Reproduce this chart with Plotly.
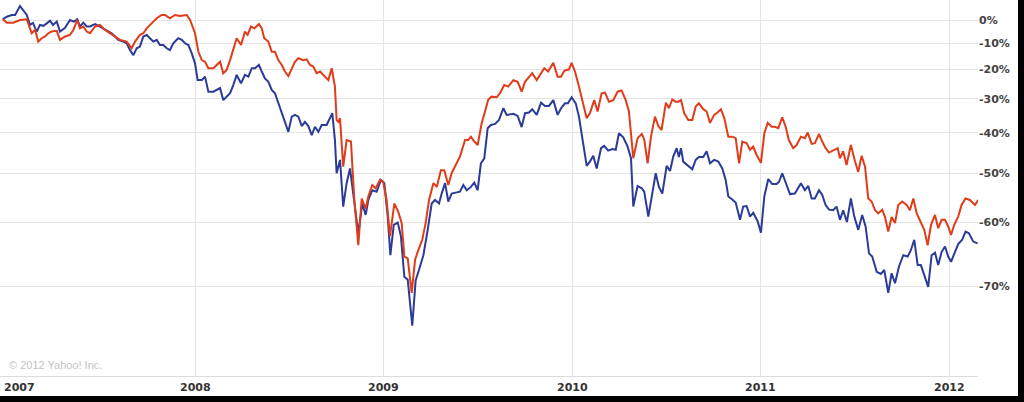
import plotly.graph_objects as go

# Time in decimal years, value = % change since start
blue_t = [2006.980, 2007.002, 2007.028, 2007.046, 2007.072, 2007.088, 2007.108, 2007.125, 2007.141, 2007.152,
          2007.161, 2007.178, 2007.196, 2007.214, 2007.231, 2007.247, 2007.267, 2007.284, 2007.311, 2007.337,
          2007.358, 2007.376, 2007.390, 2007.408, 2007.426, 2007.443, 2007.470, 2007.496, 2007.514, 2007.532,
          2007.558, 2007.576, 2007.593, 2007.620, 2007.638, 2007.655, 2007.673, 2007.691, 2007.708, 2007.726,
          2007.744, 2007.761, 2007.779, 2007.797, 2007.814, 2007.832, 2007.850, 2007.867, 2007.885, 2007.911,
          2007.930, 2007.947, 2007.965, 2007.983, 2008.000, 2008.014, 2008.036, 2008.053, 2008.071, 2008.097,
          2008.115, 2008.133, 2008.150, 2008.168, 2008.186, 2008.203, 2008.221, 2008.244, 2008.265, 2008.283,
          2008.301, 2008.318, 2008.339, 2008.354, 2008.371, 2008.389, 2008.407, 2008.424, 2008.442, 2008.468,
          2008.495, 2008.513, 2008.530, 2008.548, 2008.566, 2008.583, 2008.601, 2008.619, 2008.636, 2008.654,
          2008.672, 2008.698, 2008.716, 2008.728, 2008.742, 2008.751, 2008.769, 2008.786, 2008.804, 2008.822,
          2008.839, 2008.866, 2008.887, 2008.905, 2008.919, 2008.940, 2008.963, 2008.986, 2009.004, 2009.022,
          2009.036, 2009.054, 2009.075, 2009.092, 2009.110, 2009.128, 2009.152, 2009.170, 2009.188, 2009.211,
          2009.234, 2009.255, 2009.273, 2009.294, 2009.308, 2009.326, 2009.343, 2009.361, 2009.382, 2009.405,
          2009.423, 2009.441, 2009.463, 2009.481, 2009.499, 2009.516, 2009.534, 2009.552, 2009.569, 2009.591,
          2009.612, 2009.635, 2009.653, 2009.688, 2009.711, 2009.732, 2009.750, 2009.771, 2009.788, 2009.812,
          2009.835, 2009.856, 2009.877, 2009.900, 2009.923, 2009.941, 2009.962, 2009.978, 2009.997, 2010.019,
          2010.036, 2010.054, 2010.077, 2010.094, 2010.112, 2010.130, 2010.153, 2010.170, 2010.191, 2010.213,
          2010.231, 2010.248, 2010.271, 2010.294, 2010.312, 2010.324, 2010.347, 2010.369, 2010.382, 2010.404,
          2010.422, 2010.443, 2010.460, 2010.478, 2010.501, 2010.519, 2010.536, 2010.554, 2010.566, 2010.577,
          2010.589, 2010.616, 2010.637, 2010.655, 2010.672, 2010.695, 2010.713, 2010.731, 2010.753, 2010.775,
          2010.796, 2010.814, 2010.828, 2010.849, 2010.867, 2010.890, 2010.907, 2010.925, 2010.943, 2010.960,
          2010.984, 2011.001, 2011.019, 2011.040, 2011.061, 2011.084, 2011.097, 2011.114, 2011.132, 2011.155,
          2011.181, 2011.213, 2011.234, 2011.252, 2011.270, 2011.287, 2011.309, 2011.326, 2011.344, 2011.362,
          2011.384, 2011.402, 2011.420, 2011.437, 2011.457, 2011.478, 2011.496, 2011.517, 2011.538, 2011.556,
          2011.574, 2011.591, 2011.615, 2011.637, 2011.655, 2011.676, 2011.694, 2011.712, 2011.733, 2011.756,
          2011.779, 2011.796, 2011.814, 2011.832, 2011.849, 2011.871, 2011.888, 2011.906, 2011.924, 2011.941,
          2011.959, 2011.977, 2011.994, 2012.009, 2012.030, 2012.047, 2012.068, 2012.086, 2012.104, 2012.127,
          2012.150]
blue_pct = [0.3, 1.5, 2.3, 2.3, 6.5, 4.6, 2.3, -2.2, -1.3, -3.5,
            -5.1, -2.2, -2.6, -1.5, -0.3, -2.2, -0.7, -5.1, -3.5, 0.0,
            -0.7, 0.3, -2.9, -1.2, -2.9, -2.9, -1.8, -2.9, -3.7, -4.4,
            -5.8, -7.2, -8.6, -9.3, -10.0, -12.7, -14.7, -12.0, -11.3, -7.2,
            -6.5, -7.9, -9.3, -8.6, -10.7, -10.7, -12.0, -12.7, -10.0, -7.9,
            -8.6, -10.0, -10.7, -14.0, -17.8, -23.8, -23.8, -22.6, -27.7, -27.7,
            -27.1, -26.5, -30.4, -29.3, -28.2, -25.5, -22.0, -24.9, -22.0, -22.6,
            -19.6, -19.6, -18.4, -20.8, -23.2, -24.4, -27.1, -28.2, -31.4, -35.4,
            -39.7, -35.4, -34.9, -35.4, -38.1, -36.9, -38.1, -40.6, -38.3, -39.7,
            -37.8, -37.8, -35.9, -34.4, -41.9, -50.0, -46.9, -57.0, -52.2, -48.9,
            -54.4, -61.9, -56.4, -58.6, -55.7, -53.7, -54.0, -51.5, -52.2, -58.9,
            -65.5, -60.4, -60.0, -62.4, -68.7, -69.1, -74.9, -69.2, -67.7, -65.5,
            -61.3, -56.4, -55.7, -56.4, -54.4, -52.2, -56.0, -54.4, -54.2, -54.0,
            -52.6, -53.7, -53.0, -52.1, -53.7, -47.7, -46.5, -38.7, -37.8, -37.5,
            -36.4, -32.9, -34.9, -34.6, -35.2, -38.4, -34.4, -34.2, -33.2, -34.9,
            -31.2, -32.2, -32.2, -30.4, -34.9, -32.9, -31.4, -31.4, -29.5, -31.4,
            -35.4, -41.4, -48.3, -47.3, -45.9, -48.9, -44.0, -43.4, -44.6, -44.2,
            -44.4, -40.1, -41.2, -43.6, -46.5, -57.0, -52.8, -53.3, -54.0, -58.9,
            -55.0, -50.0, -53.0, -54.4, -48.3, -49.5, -46.1, -44.0, -46.2, -44.0,
            -47.3, -48.3, -49.1, -46.9, -46.2, -46.2, -44.8, -47.7, -46.9, -47.3,
            -48.9, -51.5, -55.0, -55.6, -56.2, -59.5, -57.0, -56.9, -58.9, -58.2,
            -59.8, -61.8, -55.0, -51.3, -52.4, -52.4, -51.9, -50.0, -52.2, -54.5,
            -54.4, -52.2, -53.7, -52.8, -55.4, -55.4, -53.7, -54.7, -56.7, -57.6,
            -57.7, -57.0, -59.5, -57.7, -59.9, -55.4, -58.9, -61.3, -58.6, -60.7,
            -65.2, -65.7, -68.0, -68.3, -67.7, -70.9, -68.2, -69.6, -67.2, -65.5,
            -65.7, -64.7, -63.0, -67.0, -67.0, -68.7, -70.1, -65.5, -65.1, -67.0,
            -65.0, -64.1, -65.7, -66.5, -65.0, -63.7, -63.0, -61.6, -61.9, -63.3,
            -63.6]

red_t = [2006.980, 2007.002, 2007.037, 2007.072, 2007.108, 2007.116, 2007.134, 2007.152, 2007.169, 2007.187,
         2007.205, 2007.222, 2007.240, 2007.267, 2007.284, 2007.311, 2007.337, 2007.355, 2007.376, 2007.390,
         2007.408, 2007.426, 2007.443, 2007.470, 2007.496, 2007.523, 2007.549, 2007.576, 2007.602, 2007.638,
         2007.664, 2007.682, 2007.708, 2007.726, 2007.744, 2007.770, 2007.797, 2007.823, 2007.841, 2007.867,
         2007.894, 2007.920, 2007.956, 2007.974, 2008.000, 2008.018, 2008.036, 2008.053, 2008.071, 2008.097,
         2008.115, 2008.133, 2008.150, 2008.168, 2008.186, 2008.203, 2008.221, 2008.244, 2008.265, 2008.279,
         2008.297, 2008.315, 2008.339, 2008.354, 2008.367, 2008.389, 2008.407, 2008.424, 2008.442, 2008.460,
         2008.477, 2008.495, 2008.513, 2008.530, 2008.548, 2008.574, 2008.592, 2008.610, 2008.627, 2008.645,
         2008.663, 2008.680, 2008.707, 2008.725, 2008.742, 2008.751, 2008.760, 2008.769, 2008.786, 2008.804,
         2008.827, 2008.845, 2008.866, 2008.884, 2008.905, 2008.919, 2008.940, 2008.958, 2008.981, 2008.998,
         2009.016, 2009.034, 2009.057, 2009.078, 2009.096, 2009.110, 2009.128, 2009.149, 2009.167, 2009.184,
         2009.205, 2009.223, 2009.241, 2009.264, 2009.282, 2009.304, 2009.322, 2009.343, 2009.361, 2009.378,
         2009.405, 2009.432, 2009.449, 2009.463, 2009.481, 2009.499, 2009.520, 2009.538, 2009.555, 2009.573,
         2009.600, 2009.617, 2009.640, 2009.661, 2009.688, 2009.711, 2009.732, 2009.750, 2009.771, 2009.788,
         2009.812, 2009.835, 2009.852, 2009.873, 2009.900, 2009.923, 2009.941, 2009.958, 2009.983, 2009.997,
         2010.015, 2010.036, 2010.059, 2010.077, 2010.094, 2010.117, 2010.135, 2010.156, 2010.174, 2010.195,
         2010.218, 2010.241, 2010.262, 2010.284, 2010.301, 2010.324, 2010.347, 2010.369, 2010.382, 2010.400,
         2010.418, 2010.439, 2010.457, 2010.474, 2010.497, 2010.513, 2010.531, 2010.549, 2010.563, 2010.577,
         2010.594, 2010.616, 2010.637, 2010.655, 2010.672, 2010.695, 2010.713, 2010.731, 2010.753, 2010.771,
         2010.789, 2010.807, 2010.828, 2010.849, 2010.867, 2010.885, 2010.902, 2010.925, 2010.943, 2010.960,
         2010.978, 2011.001, 2011.019, 2011.037, 2011.058, 2011.076, 2011.093, 2011.114, 2011.132, 2011.149,
         2011.172, 2011.190, 2011.213, 2011.234, 2011.249, 2011.270, 2011.287, 2011.309, 2011.326, 2011.344,
         2011.362, 2011.390, 2011.408, 2011.420, 2011.437, 2011.455, 2011.478, 2011.500, 2011.517, 2011.535,
         2011.553, 2011.570, 2011.588, 2011.606, 2011.623, 2011.644, 2011.659, 2011.676, 2011.694, 2011.712,
         2011.729, 2011.750, 2011.774, 2011.791, 2011.809, 2011.827, 2011.844, 2011.867, 2011.885, 2011.903,
         2011.924, 2011.941, 2011.959, 2011.977, 2011.994, 2012.009, 2012.026, 2012.047, 2012.065, 2012.086,
         2012.109, 2012.136, 2012.153]
red_pct = [0.3, -1.2, -1.2, 0.0, 0.3, -1.5, -5.8, -4.4, -9.3, -7.9,
           -7.2, -5.8, -5.1, -4.8, -8.6, -7.2, -6.5, -4.4, 0.0, -3.7,
           -2.9, -5.1, -5.8, -2.9, -2.2, -4.4, -5.8, -7.2, -8.6, -9.3,
           -12.0, -9.3, -6.5, -5.8, -3.7, -1.5, 0.8, 2.3, 2.3, 0.8,
           2.3, 1.8, 2.3, 0.0, -5.8, -13.4, -16.6, -17.2, -19.6, -19.6,
           -18.4, -17.2, -21.4, -20.2, -16.6, -12.7, -7.9, -10.7, -5.1, -6.5,
           -2.9, -3.7, -1.8, -3.7, -7.9, -9.3, -13.4, -13.4, -16.6, -18.4,
           -20.8, -22.4, -19.6, -17.2, -15.9, -16.6, -16.3, -18.4, -19.0, -21.4,
           -20.8, -22.0, -23.8, -19.6, -26.0, -36.4, -36.9, -35.9, -48.5, -41.9,
           -42.3, -55.7, -63.9, -55.4, -57.4, -55.0, -52.6, -53.3, -51.5, -51.9,
           -55.7, -62.4, -56.4, -58.0, -60.1, -65.7, -66.0, -70.9, -66.2, -64.7,
           -63.0, -60.1, -55.7, -52.2, -53.0, -49.3, -49.3, -52.6, -50.0, -48.5,
           -46.1, -41.9, -41.9, -41.0, -42.3, -43.2, -37.3, -33.9, -30.2, -29.3,
           -29.5, -28.2, -25.5, -26.0, -23.8, -24.4, -27.7, -24.4, -22.6, -21.4,
           -23.8, -21.4, -19.6, -20.8, -17.6, -22.6, -22.6, -20.5, -20.0, -17.6,
           -20.8, -26.0, -31.4, -35.9, -34.4, -30.4, -33.9, -28.2, -28.0, -30.9,
           -30.4, -27.7, -27.3, -30.4, -33.9, -46.5, -41.4, -40.3, -41.7, -47.7,
           -41.0, -35.4, -38.1, -39.2, -31.2, -32.9, -30.2, -30.9, -30.9, -30.4,
           -34.4, -36.4, -36.4, -32.4, -31.4, -33.2, -33.9, -37.2, -34.9, -34.2,
           -33.2, -35.9, -41.0, -41.0, -41.4, -47.7, -42.3, -42.7, -44.4, -43.6,
           -45.7, -47.6, -40.1, -37.2, -38.3, -38.3, -38.7, -35.6, -38.3, -41.9,
           -44.0, -43.2, -41.0, -41.4, -39.9, -42.9, -42.7, -40.3, -42.3, -44.0,
           -45.1, -44.4, -44.0, -46.5, -44.8, -48.1, -43.2, -47.3, -49.7, -45.9,
           -48.5, -55.4, -56.0, -57.7, -58.3, -57.6, -59.0, -61.6, -59.0, -60.1,
           -56.7, -56.0, -56.7, -57.7, -55.4, -58.3, -59.5, -61.3, -63.9, -60.4,
           -58.6, -61.0, -59.5, -59.5, -60.7, -62.2, -60.4, -58.9, -56.7, -55.4,
           -55.7, -56.7, -55.7]

assert len(blue_t) == len(blue_pct), (len(blue_t), len(blue_pct))
assert len(red_t) == len(red_pct), (len(red_t), len(red_pct))

year_labels = ["2007", "2008", "2009", "2010", "2011", "2012"]
year_vals = [2007, 2008, 2009, 2010, 2011, 2012]
pct_ticks = [0, -10, -20, -30, -40, -50, -60, -70]

BLUE = "#2a3b98"
RED = "#e03c1a"
GRID = "#e4e4e4"

fig = go.Figure()
fig.add_trace(go.Scatter(x=blue_t, y=[1 + v / 100 for v in blue_pct], mode="lines",
                         line=dict(color=BLUE, width=2), hoverinfo="skip"))
fig.add_trace(go.Scatter(x=red_t, y=[1 + v / 100 for v in red_pct], mode="lines",
                         line=dict(color=RED, width=2), hoverinfo="skip"))

W, H = 1024, 402
ml, mr, mt, mb = 0, 46, 0, 26
pw, ph = W - ml - mr, H - mt - mb

fig.update_layout(
    width=W, height=H,
    margin=dict(l=ml, r=mr, t=mt, b=mb, pad=0),
    paper_bgcolor="black", plot_bgcolor="white",
    showlegend=False, hovermode=False,
    xaxis=dict(range=[2006.966, 2012.152], tickvals=year_vals[1:], showticklabels=False,
               showgrid=True, gridcolor=GRID, gridwidth=1, zeroline=False, ticks="",
               showline=True, linecolor="#dcdcdc", linewidth=1, mirror=False),
    yaxis=dict(type="log", range=[-0.6994, 0.0393], side="right",
               tickvals=[1 + p / 100 for p in pct_ticks],
               ticktext=[f"{p}%" for p in pct_ticks],
               tickfont=dict(family="DejaVu Sans", size=11, color="#444444", weight="bold"),
               showgrid=True, gridcolor=GRID, gridwidth=1, zeroline=False, ticks="",
               showline=False),
)

# white chart card over the black frame
fig.add_shape(type="rect", xref="paper", yref="paper",
              x0=-0.01, x1=1018 / pw, y0=-(396 - ph) / ph, y1=1.01,
              fillcolor="white", line=dict(width=0), layer="below")

# year labels below the plot
for lbl, yv in zip(year_labels, year_vals):
    if yv == 2007:
        fig.add_annotation(x=2 / pw, xref="paper", y=-(387 - ph) / ph, yref="paper",
                           text=lbl, showarrow=False, xanchor="left", yanchor="middle",
                           font=dict(family="DejaVu Sans", size=11, color="#333333", weight="bold"))
    else:
        fig.add_annotation(x=yv, xref="x", y=-(387 - ph) / ph, yref="paper",
                           text=lbl, showarrow=False, xanchor="center", yanchor="middle",
                           font=dict(family="DejaVu Sans", size=11, color="#333333", weight="bold"))

fig.add_annotation(x=7 / pw, xref="paper", y=(ph - 365) / ph, yref="paper",
                   text="© 2012 Yahoo! Inc.", showarrow=False, xanchor="left", yanchor="middle",
                   font=dict(family="Liberation Sans", size=11, color="#c4c4c4"))

fig.write_html("out.html", config={"displayModeBar": False},
               post_script="document.body.style.margin='0';document.body.style.overflow='hidden';")
